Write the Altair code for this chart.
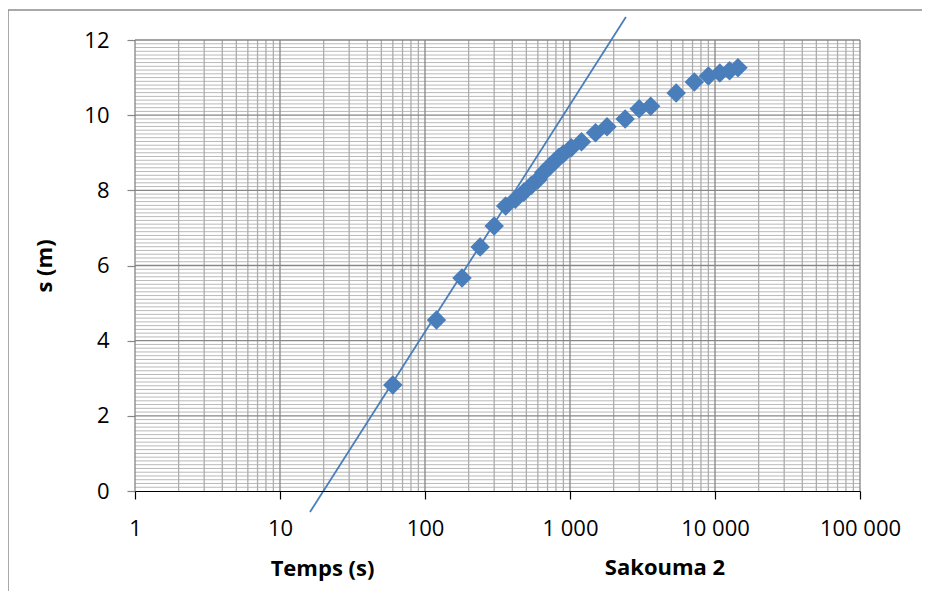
import altair as alt
import pandas as pd

# Measured data (time in seconds, drawdown in metres)
temps = [60, 120, 180, 240, 300, 360, 420, 480, 540, 600, 660, 720, 780, 840,
         900, 1020, 1200, 1500, 1800, 2400, 3000, 3600, 5400, 7200, 9000,
         10800, 12600, 14400]
rabattement = [2.82, 4.55, 5.67, 6.49, 7.05, 7.58, 7.76, 7.95, 8.13, 8.28,
               8.48, 8.63, 8.76, 8.88, 8.97, 9.13, 9.29, 9.53, 9.69, 9.90,
               10.17, 10.24, 10.59, 10.88, 11.04, 11.12, 11.18, 11.26]

# Straight-line (Jacob) fit, given by its two drawn end points
droite_t = [16.1, 2430]
droite_s = [-0.56, 12.61]

# Grid positions
x_major = [1, 10, 100, 1000, 10000, 100000]
x_minor = [k * 10 ** d for d in range(0, 5) for k in range(2, 10)]
y_major = [2, 4, 6, 8, 10, 12]
y_minor = [i / 10 for i in range(1, 120) if i % 20 != 0]

x_ticks = [1, 10, 100, 1000, 10000, 100000]
y_ticks = [0, 2, 4, 6, 8, 10, 12]

BLUE = "#4a7ebb"
FONT = "Open Sans"

xs = alt.Scale(type="log", domain=[1, 100000], nice=False)
ys = alt.Scale(domain=[0, 12], nice=False, zero=False)

x_axis = alt.Axis(values=x_ticks, title="Temps (s)", grid=False,
                  domainColor="#000000", domainWidth=1.2,
                  tickColor="#000000", tickSize=8, tickWidth=1.2,
                  labelFont=FONT, labelFontSize=22, labelColor="#000000",
                  labelBaseline="alphabetic", labelPadding=36,
                  labelFlush=False, labelOverlap=False,
                  labelExpr="replace(format(datum.value, ','), ',', ' ')",
                  titleFont=FONT, titleFontSize=22, titleFontWeight="bold",
                  titleColor="#000000", titleX=187, titleY=84,
                  titleAlign="center", titleBaseline="alphabetic",
                  zindex=1)
y_axis = alt.Axis(values=y_ticks, title="s (m)", grid=False,
                  domain=False, tickColor="#868686", tickSize=8,
                  tickWidth=1.2, labelFont=FONT, labelFontSize=22,
                  labelColor="#000000", labelPadding=18,
                  labelBaseline="middle", labelFlush=False,
                  titleFont=FONT, titleFontSize=22, titleFontWeight="bold",
                  titleColor="#000000", titlePadding=27)

pts = pd.DataFrame({"t": temps, "s": rabattement})
fit = pd.DataFrame({"t": droite_t, "s": droite_s})

ymin_grid = alt.Chart(pd.DataFrame({"s": y_minor})).mark_rule(
    color="#b9b9b9", strokeWidth=1).encode(
    y=alt.Y("s:Q", scale=ys, axis=y_axis, title="s (m)"))
xmin_grid = alt.Chart(pd.DataFrame({"t": x_minor})).mark_rule(
    color="#adadad", strokeWidth=1.3).encode(
    x=alt.X("t:Q", scale=xs, axis=x_axis, title="Temps (s)"))
ymaj_grid = alt.Chart(pd.DataFrame({"s": y_major})).mark_rule(
    color="#868686", strokeWidth=1.3).encode(
    y=alt.Y("s:Q", scale=ys, title="s (m)"))
xmaj_grid = alt.Chart(pd.DataFrame({"t": x_major})).mark_rule(
    color="#868686", strokeWidth=1.3).encode(
    x=alt.X("t:Q", scale=xs, title="Temps (s)"))

line = alt.Chart(fit).mark_line(color=BLUE, strokeWidth=1.8, clip=False).encode(
    x=alt.X("t:Q", scale=xs, title="Temps (s)"),
    y=alt.Y("s:Q", scale=ys, title="s (m)"),
)

points = alt.Chart(pts).mark_point(shape="diamond", filled=True, size=380,
                                   color=BLUE, opacity=1).encode(
    x=alt.X("t:Q", scale=xs, title="Temps (s)"),
    y=alt.Y("s:Q", scale=ys, title="s (m)"),
)

caption = alt.Chart(pd.DataFrame({"label": ["Sakouma 2"]})).mark_text(
    font=FONT, fontSize=22, fontWeight="bold", color="#000000",
    align="center", baseline="alphabetic").encode(
    text="label:N", x=alt.value(530), y=alt.value(535))

frame_top = alt.Chart(pd.DataFrame({"a": [0]})).mark_rule(
    color="#8c8c8c", strokeWidth=1.5, clip=False).encode(
    x=alt.value(-127), x2=alt.value(900), y=alt.value(-30))
frame_left = alt.Chart(pd.DataFrame({"a": [0]})).mark_rule(
    color="#8c8c8c", strokeWidth=1.5, clip=False).encode(
    x=alt.value(-127), y=alt.value(-30), y2=alt.value(570))

chart = alt.layer(
    ymin_grid, xmin_grid, ymaj_grid, xmaj_grid, frame_top, frame_left,
    line, points, caption
).properties(
    width=725, height=451,
    padding={"left": 127, "top": 32, "right": 62, "bottom": 100},
    autosize=alt.AutoSizeParams(type="none"),
    background="#ffffff",
).configure_view(stroke=None)

chart.save("out.html", embed_options={"renderer": "svg", "actions": False})
